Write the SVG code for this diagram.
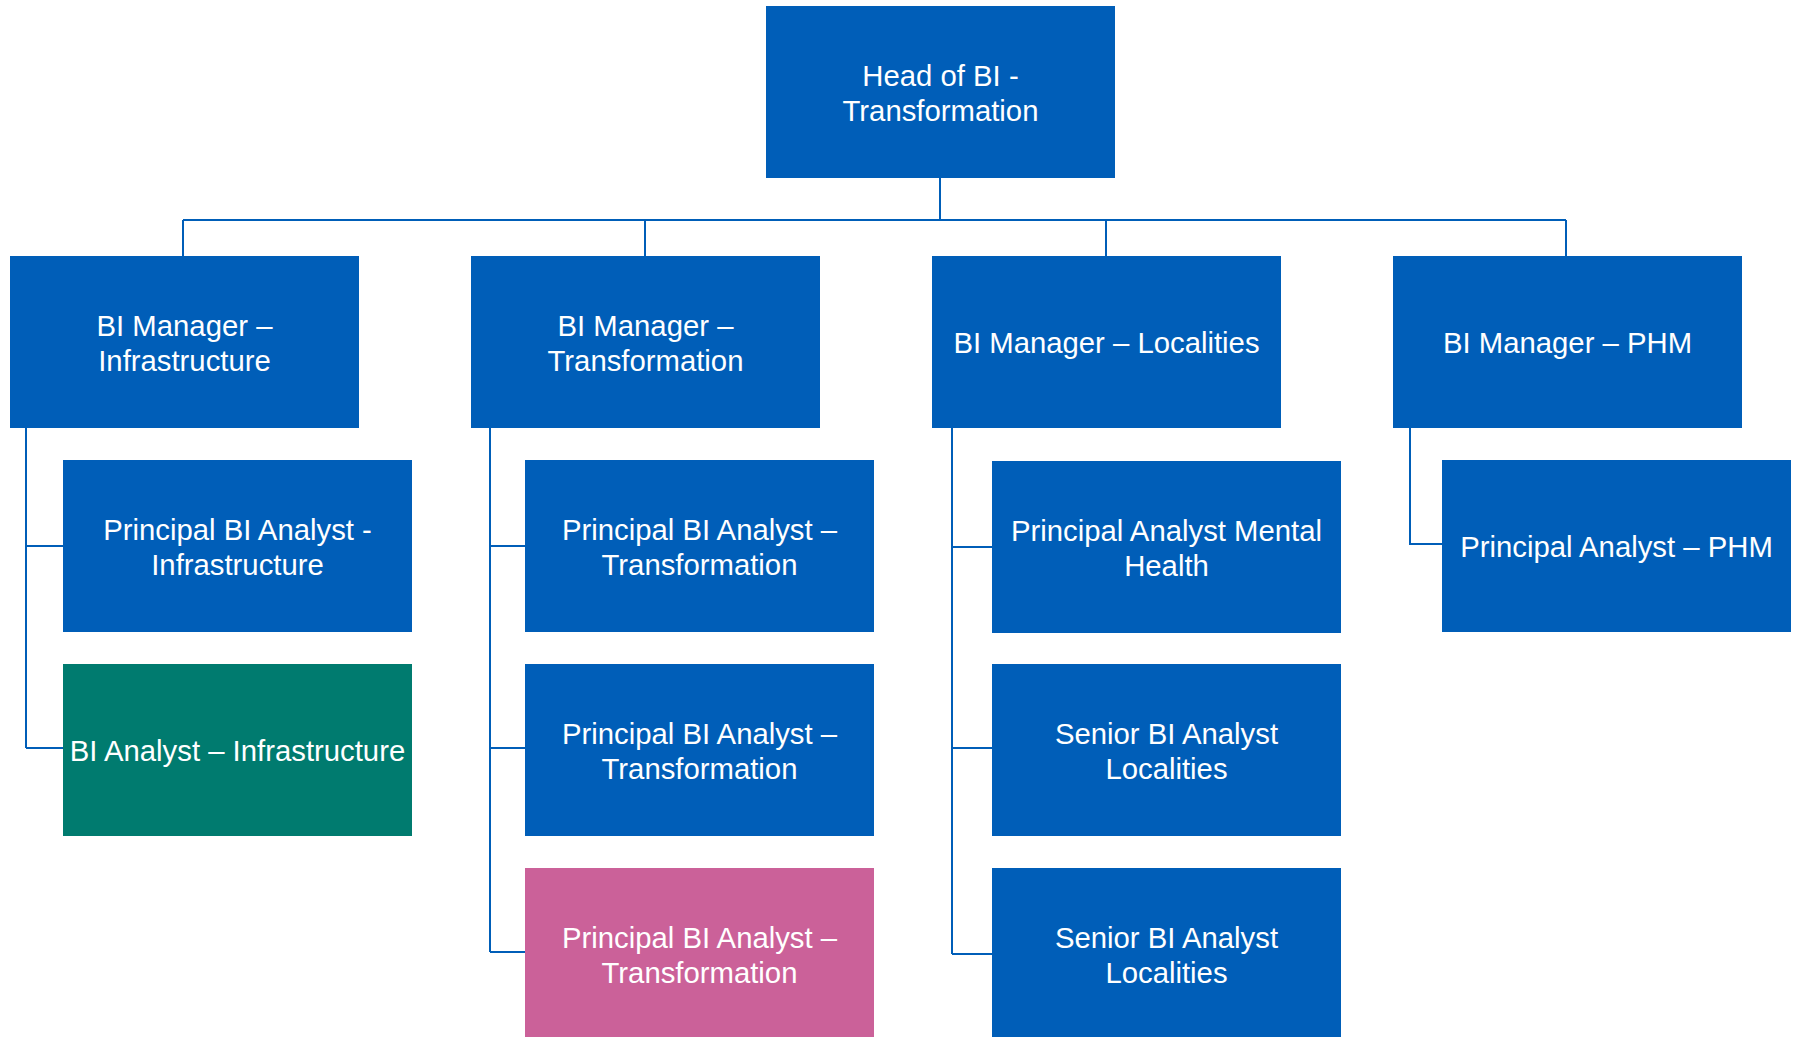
<svg xmlns="http://www.w3.org/2000/svg" width="1797" height="1037" viewBox="0 0 1797 1037">
<style>
.blue{fill:#005EB8}
.green{fill:#007B6F}
.pink{fill:#CB6199}
text{font-family:"Liberation Sans",Arial,sans-serif;font-size:29.3px;fill:#FFFFFF;text-anchor:middle}
.conn{stroke:#005EB8;stroke-width:2;fill:none}
</style>
<rect width="1797" height="1037" fill="#FFFFFF"/>
<g id="connectors">
<path class="conn" d="M940 178V220M183 220H1566M183 220V256M645 220V256M1106 220V256M1566 220V256"/>
<path class="conn" d="M26 428V748M26 546H63M26 748H63"/>
<path class="conn" d="M490 428V952M490 546H525M490 748H525M490 952H525"/>
<path class="conn" d="M952 428V954M952 547H992M952 748H992M952 954H992"/>
<path class="conn" d="M1410 428V544H1442"/>
</g>
<g id="head">
<rect class="blue" x="766" y="6" width="349" height="172"/>
<text x="940.5" y="85.5">Head of BI -</text>
<text x="940.5" y="121">Transformation</text>
</g>
<g id="mgr-infrastructure">
<rect class="blue" x="10" y="256" width="349" height="172"/>
<text x="184.5" y="336">BI Manager –</text>
<text x="184.5" y="371">Infrastructure</text>
</g>
<g id="mgr-transformation">
<rect class="blue" x="471" y="256" width="349" height="172"/>
<text x="645.5" y="336">BI Manager –</text>
<text x="645.5" y="371">Transformation</text>
</g>
<g id="mgr-localities">
<rect class="blue" x="932" y="256" width="349" height="172"/>
<text x="1106.5" y="353">BI Manager – Localities</text>
</g>
<g id="mgr-phm">
<rect class="blue" x="1393" y="256" width="349" height="172"/>
<text x="1567.5" y="353">BI Manager – PHM</text>
</g>
<g id="pba-infrastructure">
<rect class="blue" x="63" y="460" width="349" height="172"/>
<text x="237.5" y="540">Principal BI Analyst -</text>
<text x="237.5" y="575">Infrastructure</text>
</g>
<g id="ba-infrastructure">
<rect class="green" x="63" y="664" width="349" height="172"/>
<text x="237.5" y="760.5">BI Analyst – Infrastructure</text>
</g>
<g id="pba-transformation-1">
<rect class="blue" x="525" y="460" width="349" height="172"/>
<text x="699.5" y="540">Principal BI Analyst –</text>
<text x="699.5" y="575">Transformation</text>
</g>
<g id="pba-transformation-2">
<rect class="blue" x="525" y="664" width="349" height="172"/>
<text x="699.5" y="744">Principal BI Analyst –</text>
<text x="699.5" y="779">Transformation</text>
</g>
<g id="pba-transformation-3">
<rect class="pink" x="525" y="868" width="349" height="172"/>
<text x="699.5" y="948">Principal BI Analyst –</text>
<text x="699.5" y="983">Transformation</text>
</g>
<g id="pa-mental-health">
<rect class="blue" x="992" y="461" width="349" height="172"/>
<text x="1166.5" y="541">Principal Analyst Mental</text>
<text x="1166.5" y="576">Health</text>
</g>
<g id="sba-localities-1">
<rect class="blue" x="992" y="664" width="349" height="172"/>
<text x="1166.5" y="744">Senior BI Analyst</text>
<text x="1166.5" y="779">Localities</text>
</g>
<g id="sba-localities-2">
<rect class="blue" x="992" y="868" width="349" height="172"/>
<text x="1166.5" y="948">Senior BI Analyst</text>
<text x="1166.5" y="983">Localities</text>
</g>
<g id="pa-phm">
<rect class="blue" x="1442" y="460" width="349" height="172"/>
<text x="1616.5" y="556.5">Principal Analyst – PHM</text>
</g>
</svg>
